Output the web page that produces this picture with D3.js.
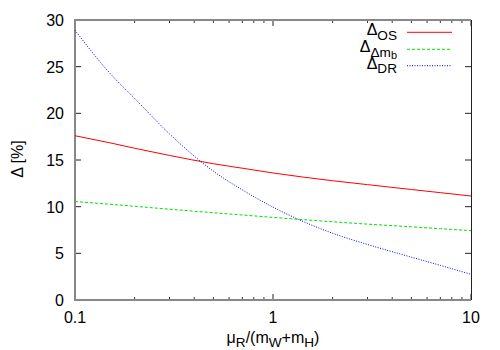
<!DOCTYPE html>
<html><head><meta charset="utf-8">
<script src="https://cdn.jsdelivr.net/npm/d3@7"></script>
<style>body{margin:0;background:#fff}svg{display:block}text{font-family:"Liberation Sans",Arial,sans-serif;fill:#000}</style>
</head><body><svg id="c" width="500" height="350"></svg>
<script>
const xValues = [0.1, 0.15, 0.2, 0.3, 0.5, 0.7, 1, 2, 3, 5, 7, 10];
const deltaOS = [17.6, 16.84, 16.26, 15.49, 14.6, 14.12, 13.61, 12.78, 12.36, 11.84, 11.5, 11.14];
const deltaDmb = [10.55, 10.26, 10.04, 9.73, 9.35, 9.11, 8.85, 8.38, 8.13, 7.84, 7.64, 7.43];
const deltaDR = [28.9, 24.3, 21.6, 17.8, 13.8, 11.8, 9.95, 7.15, 5.95, 4.59, 3.71, 2.75];
const xTickLabels = ["0.1", "1", "10"];
const yTicks = [0, 5, 10, 15, 20, 25, 30];

const svg = d3.select("#c");
const L = 75, R = 471, T = 20, B = 300;
const x = d3.scaleLog().domain([0.1, 10]).range([L, R]);
const y = d3.scaleLinear().domain([0, 30]).range([B, T]);
const fs = 16;

const minor = [];
[0.1, 1].forEach(d => { for (let k = 2; k <= 9; k++) minor.push(d * k); });
const g = svg.append("g");
minor.forEach(v => {
  g.append("line").attr("x1", x(v)).attr("x2", x(v)).attr("y1", B).attr("y2", B - 3).attr("stroke", "#333").attr("stroke-width", 1);
  g.append("line").attr("x1", x(v)).attr("x2", x(v)).attr("y1", T).attr("y2", T + 3).attr("stroke", "#333").attr("stroke-width", 1);
});
xTickLabels.forEach(s => {
  const v = +s;
  g.append("line").attr("x1", x(v)).attr("x2", x(v)).attr("y1", B).attr("y2", B - 6).attr("stroke", "#222");
  g.append("line").attr("x1", x(v)).attr("x2", x(v)).attr("y1", T).attr("y2", T + 6).attr("stroke", "#222");
  g.append("text").attr("x", x(v)).attr("y", B + 23).attr("text-anchor", "middle").attr("font-size", fs).text(s);
});
yTicks.forEach(v => {
  g.append("line").attr("x1", L).attr("x2", L + 6).attr("y1", y(v)).attr("y2", y(v)).attr("stroke", "#222");
  g.append("line").attr("x1", R).attr("x2", R - 6).attr("y1", y(v)).attr("y2", y(v)).attr("stroke", "#222");
  g.append("text").attr("x", L - 11).attr("y", y(v) + 6).attr("text-anchor", "end").attr("font-size", fs).text(v);
});

svg.append("path").attr("d", `M${R},${B}H${L}V${T}H${R}`).attr("fill", "none").attr("stroke", "#888").attr("stroke-width", 2);
svg.append("line").attr("x1", R + 0.5).attr("x2", R + 0.5).attr("y1", T).attr("y2", B).attr("stroke", "#222").attr("stroke-width", 1);

const line = d3.line().x((d, i) => x(xValues[i])).y(d => y(d)).curve(d3.curveMonotoneX);
const series = [
  {vals: deltaOS, color: "#ff0000", dash: null},
  {vals: deltaDmb, color: "#00e000", dash: "3,2"},
  {vals: deltaDR, color: "#0000ff", dash: "1,1.5"}
];
series.forEach(s => {
  svg.append("path").attr("d", line(s.vals)).attr("fill", "none").attr("stroke", s.color).attr("stroke-width", 1).attr("stroke-dasharray", s.dash);
});

const rows = [32.3, 49.3, 65.7];
const leg = svg.append("g");
const legParts = [
  [["Δ", 0], ["OS", 1]],
  [["Δ", 0], ["Δm", 1], ["b", 2]],
  [["Δ", 0], ["DR", 1]]
];
legParts.forEach((parts, i) => {
  const t = leg.append("text").attr("x", 397).attr("y", rows[i] + 3).attr("text-anchor", "end").attr("font-size", fs);
  let base = 0;
  parts.forEach(([s, lvl]) => {
    const target = lvl === 0 ? 0 : (lvl === 1 ? 4.5 : 7);
    const ts = t.append("tspan").attr("dy", target - base).text(s);
    base = target;
    if (lvl === 1) ts.attr("font-size", fs * 0.85);
    if (lvl === 2) ts.attr("font-size", fs * 0.68);
  });
  const s = series[i];
  leg.append("line").attr("x1", 407).attr("x2", 452).attr("y1", rows[i]).attr("y2", rows[i]).attr("stroke", s.color).attr("stroke-width", 1).attr("stroke-dasharray", s.dash);
});

const xt = svg.append("text").attr("x", 273).attr("y", 343).attr("text-anchor", "middle").attr("font-size", fs);
[["μ",0],["R",1],["/(m",0],["W",1],["+m",0],["H",1],[")",0]].reduce((base,[s,l]) => {
  const tgt = l ? 4 : 0;
  const ts = xt.append("tspan").attr("dy", tgt - base).text(s);
  if (l) ts.attr("font-size", fs * 0.85);
  return tgt;
}, 0);
svg.append("text").attr("transform", "translate(23,159) rotate(-90)").attr("text-anchor", "middle").attr("font-size", fs).text("Δ [%]");
</script></body></html>
